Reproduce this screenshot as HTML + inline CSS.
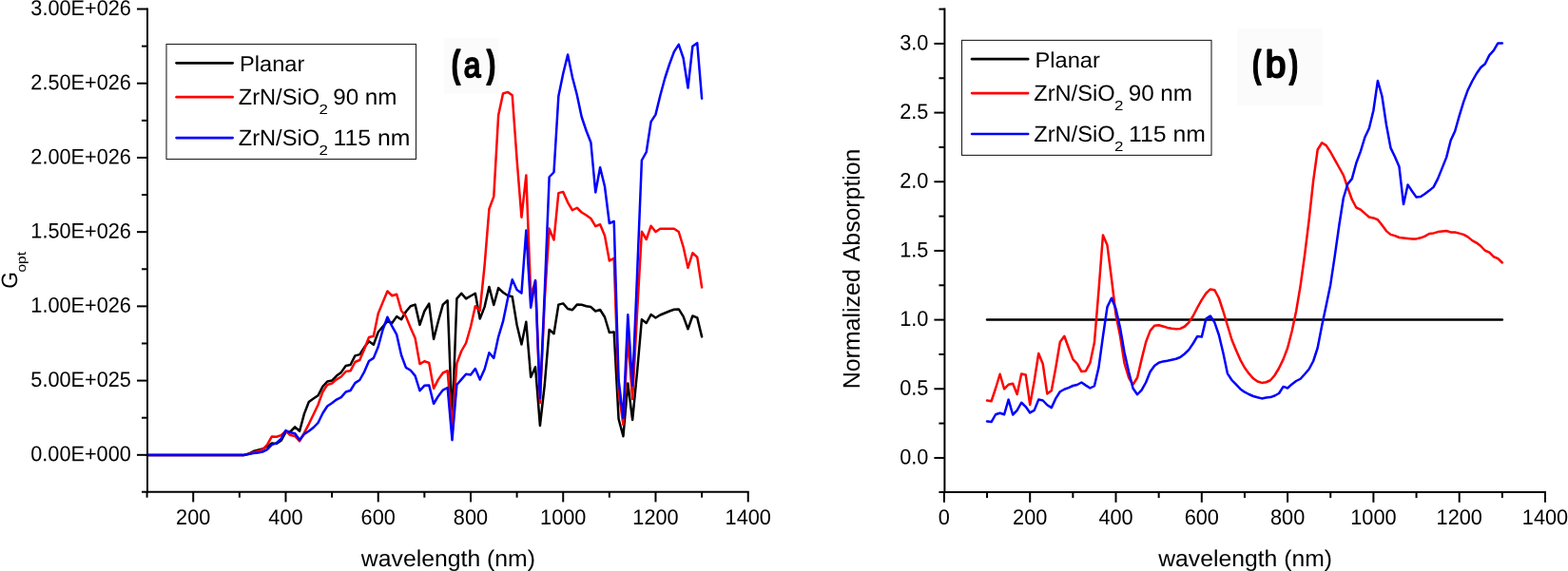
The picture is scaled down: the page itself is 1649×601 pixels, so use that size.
<!DOCTYPE html>
<html lang="en">
<head>
<meta charset="utf-8">
<title>Figure</title>
<style>
html,body{margin:0;padding:0;background:#fff;}
body{width:1649px;height:601px;overflow:hidden;}
svg{display:block;}
</style>
</head>
<body>
<svg width="1649" height="601" viewBox="0 0 1649 601" font-family="'Liberation Sans', sans-serif" text-rendering="geometricPrecision">
<rect x="0" y="0" width="1649" height="601" fill="#fff"/>
<rect x="467" y="40" width="57.6" height="58.4" fill="#fbfbfb"/>
<rect x="1301" y="30" width="89.5" height="81" fill="#fbfbfb"/>
<polyline points="154.60,478.90 159.46,478.90 164.32,478.90 169.19,478.90 174.05,478.90 178.91,478.90 183.78,478.90 188.64,478.90 193.50,478.90 198.36,478.90 203.22,478.90 208.09,478.90 212.95,478.90 217.81,478.90 222.68,478.90 227.54,478.90 232.40,478.90 237.26,478.90 242.12,478.90 246.99,478.90 251.85,478.90 256.71,478.90 261.57,477.50 266.44,475.00 271.30,473.80 276.16,472.50 281.02,470.00 285.89,466.50 290.75,466.90 295.61,463.80 300.48,454.80 305.34,454.40 310.20,449.40 315.06,453.80 319.93,435.60 324.79,423.00 329.65,419.50 334.51,416.30 339.38,406.90 344.24,401.50 349.10,400.60 353.96,395.60 358.82,391.90 363.69,385.00 368.55,384.00 373.41,374.40 378.27,373.10 383.14,365.60 388.00,359.20 392.86,362.70 397.73,349.50 402.59,343.75 407.45,338.10 412.31,340.00 417.17,333.10 422.04,336.25 426.90,328.00 431.76,322.25 436.62,320.60 441.49,341.90 446.35,327.50 451.21,319.60 456.08,356.90 460.94,338.00 465.80,320.60 470.66,316.25 475.52,445.00 480.39,314.40 485.25,308.75 490.11,314.40 494.98,311.50 499.84,308.75 504.70,335.60 509.56,323.10 514.42,301.90 519.29,321.00 524.15,303.10 529.01,307.75 533.88,311.00 538.74,312.25 543.60,342.00 548.46,362.50 553.33,338.75 558.19,396.90 563.05,386.25 567.91,448.00 572.77,405.00 577.64,346.90 582.50,351.25 587.36,320.60 592.23,319.40 597.09,325.00 601.95,326.25 606.81,320.60 611.67,320.80 616.54,322.30 621.40,323.10 626.26,327.50 631.12,326.00 635.99,333.75 640.85,350.00 645.71,349.40 650.58,441.00 655.44,459.20 660.30,403.50 665.16,442.00 670.03,392.00 674.89,336.25 679.75,340.00 684.61,331.10 689.48,334.50 694.34,331.50 699.20,329.50 704.06,327.50 708.93,325.80 713.79,325.40 718.65,333.10 723.51,346.25 728.38,332.50 733.24,334.40 738.10,354.40" fill="none" stroke="#000000" stroke-width="2.5" stroke-linejoin="round" stroke-linecap="round"/>
<polyline points="154.60,478.90 159.46,478.90 164.32,478.90 169.19,478.90 174.05,478.90 178.91,478.90 183.78,478.90 188.64,478.90 193.50,478.90 198.36,478.90 203.22,478.90 208.09,478.90 212.95,478.90 217.81,478.90 222.68,478.90 227.54,478.90 232.40,478.90 237.26,478.90 242.12,478.90 246.99,478.90 251.85,478.90 256.71,478.90 261.57,477.90 266.44,476.30 271.30,475.00 276.16,473.10 281.02,468.10 285.89,459.40 290.75,459.80 295.61,458.10 300.48,453.80 305.34,458.10 310.20,459.00 315.06,464.40 319.93,455.60 324.79,446.30 329.65,436.30 334.51,426.00 339.38,412.50 344.24,405.00 349.10,403.50 353.96,399.40 358.82,396.50 363.69,391.00 368.55,390.30 373.41,381.00 378.27,379.00 383.14,367.50 388.00,355.00 392.86,353.80 397.73,330.00 402.59,318.10 407.45,306.50 412.31,311.25 417.17,309.75 422.04,326.90 426.90,333.10 431.76,345.00 436.62,356.00 441.49,383.10 446.35,380.25 451.21,381.90 456.08,408.90 460.94,399.40 465.80,392.50 470.66,390.25 475.52,450.00 480.39,382.50 485.25,369.50 490.11,361.00 494.98,344.00 499.84,322.25 504.70,326.90 509.56,280.00 514.42,220.00 519.29,206.90 524.15,121.25 529.01,98.50 533.88,96.90 538.74,100.25 543.60,168.00 548.46,228.75 553.33,184.40 558.19,311.00 563.05,296.00 567.91,424.00 572.77,316.00 577.64,240.60 582.50,252.50 587.36,203.10 592.23,201.90 597.09,213.10 601.95,221.25 606.81,218.75 611.67,223.50 616.54,226.50 621.40,230.00 626.26,238.10 631.12,236.25 635.99,248.00 640.85,274.40 645.71,271.90 650.58,412.00 655.44,447.00 660.30,355.00 665.16,420.00 670.03,330.00 674.89,243.75 679.75,252.00 684.61,237.75 689.48,244.00 694.34,240.70 699.20,240.70 704.06,240.70 708.93,240.80 713.79,244.00 718.65,260.00 723.51,281.90 728.38,266.25 733.24,270.60 738.10,302.50" fill="none" stroke="#ff0000" stroke-width="2.5" stroke-linejoin="round" stroke-linecap="round"/>
<polyline points="154.60,478.90 159.46,478.90 164.32,478.90 169.19,478.90 174.05,478.90 178.91,478.90 183.78,478.90 188.64,478.90 193.50,478.90 198.36,478.90 203.22,478.90 208.09,478.90 212.95,478.90 217.81,478.90 222.68,478.90 227.54,478.90 232.40,478.90 237.26,478.90 242.12,478.90 246.99,478.90 251.85,478.90 256.71,478.90 261.57,478.10 266.44,477.10 271.30,476.50 276.16,475.60 281.02,473.10 285.89,468.10 290.75,466.30 295.61,461.90 300.48,453.10 305.34,455.30 310.20,456.30 315.06,463.10 319.93,456.90 324.79,453.80 329.65,450.00 334.51,445.00 339.38,435.00 344.24,427.50 349.10,424.20 353.96,420.60 358.82,418.10 363.69,412.50 368.55,411.00 373.41,403.10 378.27,400.00 383.14,391.30 388.00,380.00 392.86,376.90 397.73,365.00 402.59,347.00 407.45,333.75 412.31,343.40 417.17,352.20 422.04,373.75 426.90,386.90 431.76,389.75 436.62,395.60 441.49,411.25 446.35,405.80 451.21,405.40 456.08,425.00 460.94,416.90 465.80,410.60 470.66,408.00 475.52,463.20 480.39,405.00 485.25,399.40 490.11,393.75 494.98,394.60 499.84,388.10 504.70,399.60 509.56,388.75 514.42,371.25 519.29,376.90 524.15,354.60 529.01,338.40 533.88,314.70 538.74,294.20 543.60,305.00 548.46,308.60 553.33,242.60 558.19,323.75 563.05,295.00 567.91,419.00 572.77,308.00 577.64,186.25 582.50,181.25 587.36,101.25 592.23,77.50 597.09,57.50 601.95,81.25 606.81,100.00 611.67,123.00 616.54,137.50 621.40,150.00 626.26,202.50 631.12,176.25 635.99,196.25 640.85,235.00 645.71,233.00 650.58,400.00 655.44,440.00 660.30,331.25 665.16,406.00 670.03,290.00 674.89,168.75 679.75,160.00 684.61,128.10 689.48,120.60 694.34,100.50 699.20,82.50 704.06,67.50 708.93,54.40 713.79,46.90 718.65,61.25 723.51,92.50 728.38,48.75 733.24,45.25 738.10,103.75" fill="none" stroke="#0000ff" stroke-width="2.5" stroke-linejoin="round" stroke-linecap="round"/>
<line x1="155.00" y1="8.50" x2="155.00" y2="518.70" stroke="#000" stroke-width="2.0" stroke-linecap="butt"/>
<line x1="149.00" y1="517.70" x2="787.73" y2="517.70" stroke="#000" stroke-width="2.0" stroke-linecap="butt"/>
<line x1="144.00" y1="9.50" x2="155.00" y2="9.50" stroke="#000" stroke-width="2.0" stroke-linecap="butt"/>
<text x="32.37" y="16.00" font-size="22.60" textLength="105.57" lengthAdjust="spacingAndGlyphs" transform="rotate(0.03 137 16.00)">3.00E+026</text>
<line x1="149.00" y1="48.61" x2="155.00" y2="48.61" stroke="#000" stroke-width="2.0" stroke-linecap="butt"/>
<line x1="144.00" y1="87.72" x2="155.00" y2="87.72" stroke="#000" stroke-width="2.0" stroke-linecap="butt"/>
<text x="32.37" y="94.22" font-size="22.60" textLength="105.57" lengthAdjust="spacingAndGlyphs" transform="rotate(0.03 137 94.22)">2.50E+026</text>
<line x1="149.00" y1="126.83" x2="155.00" y2="126.83" stroke="#000" stroke-width="2.0" stroke-linecap="butt"/>
<line x1="144.00" y1="165.94" x2="155.00" y2="165.94" stroke="#000" stroke-width="2.0" stroke-linecap="butt"/>
<text x="32.37" y="172.44" font-size="22.60" textLength="105.57" lengthAdjust="spacingAndGlyphs" transform="rotate(0.03 137 172.44)">2.00E+026</text>
<line x1="149.00" y1="205.05" x2="155.00" y2="205.05" stroke="#000" stroke-width="2.0" stroke-linecap="butt"/>
<line x1="144.00" y1="244.16" x2="155.00" y2="244.16" stroke="#000" stroke-width="2.0" stroke-linecap="butt"/>
<text x="32.37" y="250.66" font-size="22.60" textLength="105.57" lengthAdjust="spacingAndGlyphs" transform="rotate(0.03 137 250.66)">1.50E+026</text>
<line x1="149.00" y1="283.27" x2="155.00" y2="283.27" stroke="#000" stroke-width="2.0" stroke-linecap="butt"/>
<line x1="144.00" y1="322.38" x2="155.00" y2="322.38" stroke="#000" stroke-width="2.0" stroke-linecap="butt"/>
<text x="32.37" y="328.88" font-size="22.60" textLength="105.57" lengthAdjust="spacingAndGlyphs" transform="rotate(0.03 137 328.88)">1.00E+026</text>
<line x1="149.00" y1="361.49" x2="155.00" y2="361.49" stroke="#000" stroke-width="2.0" stroke-linecap="butt"/>
<line x1="144.00" y1="400.60" x2="155.00" y2="400.60" stroke="#000" stroke-width="2.0" stroke-linecap="butt"/>
<text x="32.32" y="407.10" font-size="22.60" textLength="105.57" lengthAdjust="spacingAndGlyphs" transform="rotate(0.03 137 407.10)">5.00E+025</text>
<line x1="149.00" y1="439.71" x2="155.00" y2="439.71" stroke="#000" stroke-width="2.0" stroke-linecap="butt"/>
<line x1="144.00" y1="478.82" x2="155.00" y2="478.82" stroke="#000" stroke-width="2.0" stroke-linecap="butt"/>
<text x="32.26" y="485.32" font-size="22.60" textLength="105.57" lengthAdjust="spacingAndGlyphs" transform="rotate(0.03 137 485.32)">0.00E+000</text>
<line x1="154.60" y1="517.70" x2="154.60" y2="523.70" stroke="#000" stroke-width="2.0" stroke-linecap="butt"/>
<line x1="203.22" y1="517.70" x2="203.22" y2="528.40" stroke="#000" stroke-width="2.0" stroke-linecap="butt"/>
<text x="185.12" y="552.00" font-size="22.60" textLength="36.20" lengthAdjust="spacingAndGlyphs">200</text>
<line x1="251.85" y1="517.70" x2="251.85" y2="523.70" stroke="#000" stroke-width="2.0" stroke-linecap="butt"/>
<line x1="300.48" y1="517.70" x2="300.48" y2="528.40" stroke="#000" stroke-width="2.0" stroke-linecap="butt"/>
<text x="282.37" y="552.00" font-size="22.60" textLength="36.20" lengthAdjust="spacingAndGlyphs">400</text>
<line x1="349.10" y1="517.70" x2="349.10" y2="523.70" stroke="#000" stroke-width="2.0" stroke-linecap="butt"/>
<line x1="397.73" y1="517.70" x2="397.73" y2="528.40" stroke="#000" stroke-width="2.0" stroke-linecap="butt"/>
<text x="379.62" y="552.00" font-size="22.60" textLength="36.20" lengthAdjust="spacingAndGlyphs">600</text>
<line x1="446.35" y1="517.70" x2="446.35" y2="523.70" stroke="#000" stroke-width="2.0" stroke-linecap="butt"/>
<line x1="494.98" y1="517.70" x2="494.98" y2="528.40" stroke="#000" stroke-width="2.0" stroke-linecap="butt"/>
<text x="476.87" y="552.00" font-size="22.60" textLength="36.20" lengthAdjust="spacingAndGlyphs">800</text>
<line x1="543.60" y1="517.70" x2="543.60" y2="523.70" stroke="#000" stroke-width="2.0" stroke-linecap="butt"/>
<line x1="592.23" y1="517.70" x2="592.23" y2="528.40" stroke="#000" stroke-width="2.0" stroke-linecap="butt"/>
<text x="568.09" y="552.00" font-size="22.60" textLength="48.27" lengthAdjust="spacingAndGlyphs">1000</text>
<line x1="640.85" y1="517.70" x2="640.85" y2="523.70" stroke="#000" stroke-width="2.0" stroke-linecap="butt"/>
<line x1="689.48" y1="517.70" x2="689.48" y2="528.40" stroke="#000" stroke-width="2.0" stroke-linecap="butt"/>
<text x="665.34" y="552.00" font-size="22.60" textLength="48.27" lengthAdjust="spacingAndGlyphs">1200</text>
<line x1="738.10" y1="517.70" x2="738.10" y2="523.70" stroke="#000" stroke-width="2.0" stroke-linecap="butt"/>
<line x1="786.73" y1="517.70" x2="786.73" y2="528.40" stroke="#000" stroke-width="2.0" stroke-linecap="butt"/>
<text x="762.59" y="552.00" font-size="22.60" textLength="48.27" lengthAdjust="spacingAndGlyphs">1400</text>
<text x="379.86" y="596.00" font-size="24.30" textLength="183.12" lengthAdjust="spacingAndGlyphs" fill="#000">wavelength (nm)</text>
<g transform="translate(17.9,302.7) rotate(-90)"><text y="0.00"><tspan x="-1.14" y="0.00" font-size="23.50" textLength="17.76" lengthAdjust="spacingAndGlyphs">G</tspan><tspan x="16.14" y="8.70" font-size="13.40" textLength="21.58" lengthAdjust="spacingAndGlyphs">opt</tspan></text></g>
<rect x="175.00" y="46.50" width="262.5" height="121" fill="#fff" stroke="#222" stroke-width="1.1"/>
<line x1="185.60" y1="66.30" x2="244.60" y2="66.30" stroke="#000000" stroke-width="2.7" stroke-linecap="round"/>
<line x1="185.60" y1="102.20" x2="244.60" y2="102.20" stroke="#ff0000" stroke-width="2.7" stroke-linecap="round"/>
<line x1="185.60" y1="145.10" x2="244.60" y2="145.10" stroke="#0000ff" stroke-width="2.7" stroke-linecap="round"/>
<text x="252.05" y="75.00" font-size="23.00" textLength="68.32" lengthAdjust="spacingAndGlyphs" fill="#000">Planar</text>
<text y="110.00"><tspan x="250.73" y="110.00" font-size="23.60" textLength="85.41" lengthAdjust="spacingAndGlyphs">ZrN/SiO</tspan><tspan x="335.45" y="119.80" font-size="14.50" textLength="9.41" lengthAdjust="spacingAndGlyphs">2</tspan> <tspan x="350.15" y="110.00" font-size="23.60" textLength="67.41" lengthAdjust="spacingAndGlyphs">90 nm</tspan></text>
<text y="153.20"><tspan x="250.73" y="153.20" font-size="23.60" textLength="85.41" lengthAdjust="spacingAndGlyphs">ZrN/SiO</tspan><tspan x="335.45" y="163.00" font-size="14.50" textLength="9.41" lengthAdjust="spacingAndGlyphs">2</tspan> <tspan x="350.64" y="153.20" font-size="23.60" textLength="80.80" lengthAdjust="spacingAndGlyphs">115 nm</tspan></text>
<text y="81.00" stroke="#000" stroke-width="1.5" stroke-linejoin="round"><tspan x="474.78" font-size="40.00" font-weight="bold" textLength="9.43" lengthAdjust="spacingAndGlyphs">(</tspan><tspan x="487.85" font-size="37.00" stroke-width="2.0" textLength="17.71" lengthAdjust="spacingAndGlyphs">a</tspan><tspan x="511.83" font-size="40.00" font-weight="bold" textLength="9.51" lengthAdjust="spacingAndGlyphs">)</tspan></text>
<polyline points="1038.05,336.50 1579.85,336.50" fill="none" stroke="#000000" stroke-width="2.5" stroke-linejoin="round" stroke-linecap="round"/>
<polyline points="1038.05,421.60 1042.57,422.25 1047.08,408.75 1051.60,393.75 1056.11,409.40 1060.62,404.75 1065.14,403.75 1069.65,415.00 1074.17,393.50 1078.68,394.40 1083.20,426.00 1087.71,401.00 1092.23,372.00 1096.74,383.00 1101.26,414.40 1105.78,411.25 1110.29,387.00 1114.81,360.00 1119.32,353.75 1123.84,366.25 1128.35,378.10 1132.87,382.80 1137.38,391.10 1141.89,390.40 1146.41,382.00 1150.92,360.60 1155.44,306.00 1159.95,247.50 1164.47,258.10 1168.98,293.50 1173.50,331.25 1178.01,353.75 1182.53,382.50 1187.05,397.50 1191.56,404.75 1196.08,397.50 1200.59,378.10 1205.11,360.00 1209.62,348.10 1214.13,342.75 1218.65,342.25 1223.16,343.50 1227.68,344.90 1232.19,345.75 1236.71,346.25 1241.22,345.90 1245.74,343.75 1250.26,339.40 1254.77,332.50 1259.28,323.75 1263.80,315.60 1268.32,308.75 1272.83,304.40 1277.35,305.25 1281.86,313.75 1286.38,327.50 1290.89,342.50 1295.40,357.50 1299.92,368.50 1304.43,378.80 1308.95,387.00 1313.46,393.20 1317.98,398.30 1322.49,401.50 1327.01,402.90 1331.53,402.25 1336.04,400.25 1340.56,395.00 1345.07,387.50 1349.59,378.10 1354.10,366.25 1358.62,348.75 1363.13,327.50 1367.64,300.60 1372.16,268.00 1376.67,231.25 1381.19,190.00 1385.70,157.50 1390.22,150.25 1394.74,153.10 1399.25,160.00 1403.76,168.10 1408.28,176.25 1412.80,184.40 1417.31,197.50 1421.83,210.00 1426.34,218.50 1430.86,220.60 1435.37,224.60 1439.88,228.50 1444.40,229.40 1448.91,231.25 1453.43,236.90 1457.94,243.10 1462.46,246.90 1466.97,248.10 1471.49,250.00 1476.01,250.40 1480.52,250.90 1485.03,251.40 1489.55,251.40 1494.07,250.30 1498.58,248.60 1503.10,246.00 1507.61,245.40 1512.12,244.10 1516.64,243.60 1521.15,243.00 1525.67,244.40 1530.18,244.50 1534.70,245.60 1539.22,246.90 1543.73,249.40 1548.24,253.10 1552.76,255.60 1557.28,259.00 1561.79,263.75 1566.30,265.60 1570.82,270.25 1575.34,272.10 1579.85,276.50" fill="none" stroke="#ff0000" stroke-width="2.5" stroke-linejoin="round" stroke-linecap="round"/>
<polyline points="1038.05,443.40 1042.57,444.10 1047.08,436.25 1051.60,434.75 1056.11,436.25 1060.62,420.60 1065.14,436.50 1069.65,431.90 1074.17,423.75 1078.68,428.10 1083.20,434.40 1087.71,431.90 1092.23,420.60 1096.74,421.50 1101.26,426.25 1105.78,429.10 1110.29,419.40 1114.81,412.25 1119.32,409.75 1123.84,408.10 1128.35,406.00 1132.87,405.00 1137.38,402.50 1141.89,405.60 1146.41,408.50 1150.92,406.25 1155.44,386.90 1159.95,354.00 1164.47,323.10 1168.98,313.75 1173.50,325.00 1178.01,345.00 1182.53,371.00 1187.05,391.25 1191.56,408.75 1196.08,415.25 1200.59,410.60 1205.11,402.50 1209.62,391.25 1214.13,385.00 1218.65,381.70 1223.16,380.40 1227.68,379.75 1232.19,378.75 1236.71,377.75 1241.22,376.00 1245.74,372.50 1250.26,368.10 1254.77,361.50 1259.28,353.90 1263.80,354.60 1268.32,335.60 1272.83,332.50 1277.35,339.40 1281.86,352.50 1286.38,371.50 1290.89,393.10 1295.40,400.00 1299.92,404.70 1304.43,409.40 1308.95,412.70 1313.46,415.00 1317.98,417.00 1322.49,418.25 1327.01,419.40 1331.53,418.50 1336.04,418.10 1340.56,416.50 1345.07,414.00 1349.59,406.90 1354.10,408.50 1358.62,404.40 1363.13,401.00 1367.64,398.75 1372.16,393.75 1376.67,388.50 1381.19,380.00 1385.70,366.00 1390.22,342.50 1394.74,321.25 1399.25,299.40 1403.76,269.40 1408.28,237.50 1412.80,208.50 1417.31,193.75 1421.83,188.10 1426.34,171.50 1430.86,159.40 1435.37,144.50 1439.88,135.00 1444.40,116.25 1448.91,85.00 1453.43,101.25 1457.94,131.25 1462.46,155.60 1466.97,165.00 1471.49,175.60 1476.01,215.00 1480.52,194.40 1485.03,201.25 1489.55,207.60 1494.07,207.00 1498.58,204.00 1503.10,200.60 1507.61,196.90 1512.12,188.10 1516.64,176.90 1521.15,165.60 1525.67,147.80 1530.18,138.00 1534.70,121.90 1539.22,107.20 1543.73,94.70 1548.24,85.50 1552.76,77.50 1557.28,71.00 1561.79,67.25 1566.30,58.10 1570.82,53.10 1575.34,45.40 1579.85,45.40" fill="none" stroke="#0000ff" stroke-width="2.5" stroke-linejoin="round" stroke-linecap="round"/>
<line x1="993.40" y1="8.59" x2="993.40" y2="519.10" stroke="#000" stroke-width="2.0" stroke-linecap="butt"/>
<line x1="987.40" y1="518.10" x2="1626.00" y2="518.10" stroke="#000" stroke-width="2.0" stroke-linecap="butt"/>
<line x1="987.40" y1="9.59" x2="993.40" y2="9.59" stroke="#000" stroke-width="2.0" stroke-linecap="butt"/>
<line x1="982.40" y1="45.93" x2="993.40" y2="45.93" stroke="#000" stroke-width="2.0" stroke-linecap="butt"/>
<text x="946.16" y="52.43" font-size="22.60" textLength="30.16" lengthAdjust="spacingAndGlyphs" transform="rotate(0.03 975 52.43)">3.0</text>
<line x1="987.40" y1="82.27" x2="993.40" y2="82.27" stroke="#000" stroke-width="2.0" stroke-linecap="butt"/>
<line x1="982.40" y1="118.60" x2="993.40" y2="118.60" stroke="#000" stroke-width="2.0" stroke-linecap="butt"/>
<text x="946.21" y="125.10" font-size="22.60" textLength="30.16" lengthAdjust="spacingAndGlyphs" transform="rotate(0.03 975 125.10)">2.5</text>
<line x1="987.40" y1="154.93" x2="993.40" y2="154.93" stroke="#000" stroke-width="2.0" stroke-linecap="butt"/>
<line x1="982.40" y1="191.27" x2="993.40" y2="191.27" stroke="#000" stroke-width="2.0" stroke-linecap="butt"/>
<text x="946.16" y="197.77" font-size="22.60" textLength="30.16" lengthAdjust="spacingAndGlyphs" transform="rotate(0.03 975 197.77)">2.0</text>
<line x1="987.40" y1="227.60" x2="993.40" y2="227.60" stroke="#000" stroke-width="2.0" stroke-linecap="butt"/>
<line x1="982.40" y1="263.94" x2="993.40" y2="263.94" stroke="#000" stroke-width="2.0" stroke-linecap="butt"/>
<text x="946.21" y="270.44" font-size="22.60" textLength="30.16" lengthAdjust="spacingAndGlyphs" transform="rotate(0.03 975 270.44)">1.5</text>
<line x1="987.40" y1="300.27" x2="993.40" y2="300.27" stroke="#000" stroke-width="2.0" stroke-linecap="butt"/>
<line x1="982.40" y1="336.61" x2="993.40" y2="336.61" stroke="#000" stroke-width="2.0" stroke-linecap="butt"/>
<text x="946.16" y="343.11" font-size="22.60" textLength="30.16" lengthAdjust="spacingAndGlyphs" transform="rotate(0.03 975 343.11)">1.0</text>
<line x1="987.40" y1="372.94" x2="993.40" y2="372.94" stroke="#000" stroke-width="2.0" stroke-linecap="butt"/>
<line x1="982.40" y1="409.28" x2="993.40" y2="409.28" stroke="#000" stroke-width="2.0" stroke-linecap="butt"/>
<text x="946.21" y="415.78" font-size="22.60" textLength="30.16" lengthAdjust="spacingAndGlyphs" transform="rotate(0.03 975 415.78)">0.5</text>
<line x1="987.40" y1="445.61" x2="993.40" y2="445.61" stroke="#000" stroke-width="2.0" stroke-linecap="butt"/>
<line x1="982.40" y1="481.95" x2="993.40" y2="481.95" stroke="#000" stroke-width="2.0" stroke-linecap="butt"/>
<text x="946.16" y="488.45" font-size="22.60" textLength="30.16" lengthAdjust="spacingAndGlyphs" transform="rotate(0.03 975 488.45)">0.0</text>
<line x1="992.90" y1="518.10" x2="992.90" y2="528.80" stroke="#000" stroke-width="2.0" stroke-linecap="butt"/>
<text x="986.87" y="552.00" font-size="22.60" textLength="12.07" lengthAdjust="spacingAndGlyphs">0</text>
<line x1="1038.05" y1="518.10" x2="1038.05" y2="524.10" stroke="#000" stroke-width="2.0" stroke-linecap="butt"/>
<line x1="1083.20" y1="518.10" x2="1083.20" y2="528.80" stroke="#000" stroke-width="2.0" stroke-linecap="butt"/>
<text x="1065.10" y="552.00" font-size="22.60" textLength="36.20" lengthAdjust="spacingAndGlyphs">200</text>
<line x1="1128.35" y1="518.10" x2="1128.35" y2="524.10" stroke="#000" stroke-width="2.0" stroke-linecap="butt"/>
<line x1="1173.50" y1="518.10" x2="1173.50" y2="528.80" stroke="#000" stroke-width="2.0" stroke-linecap="butt"/>
<text x="1155.40" y="552.00" font-size="22.60" textLength="36.20" lengthAdjust="spacingAndGlyphs">400</text>
<line x1="1218.65" y1="518.10" x2="1218.65" y2="524.10" stroke="#000" stroke-width="2.0" stroke-linecap="butt"/>
<line x1="1263.80" y1="518.10" x2="1263.80" y2="528.80" stroke="#000" stroke-width="2.0" stroke-linecap="butt"/>
<text x="1245.70" y="552.00" font-size="22.60" textLength="36.20" lengthAdjust="spacingAndGlyphs">600</text>
<line x1="1308.95" y1="518.10" x2="1308.95" y2="524.10" stroke="#000" stroke-width="2.0" stroke-linecap="butt"/>
<line x1="1354.10" y1="518.10" x2="1354.10" y2="528.80" stroke="#000" stroke-width="2.0" stroke-linecap="butt"/>
<text x="1336.00" y="552.00" font-size="22.60" textLength="36.20" lengthAdjust="spacingAndGlyphs">800</text>
<line x1="1399.25" y1="518.10" x2="1399.25" y2="524.10" stroke="#000" stroke-width="2.0" stroke-linecap="butt"/>
<line x1="1444.40" y1="518.10" x2="1444.40" y2="528.80" stroke="#000" stroke-width="2.0" stroke-linecap="butt"/>
<text x="1420.27" y="552.00" font-size="22.60" textLength="48.27" lengthAdjust="spacingAndGlyphs">1000</text>
<line x1="1489.55" y1="518.10" x2="1489.55" y2="524.10" stroke="#000" stroke-width="2.0" stroke-linecap="butt"/>
<line x1="1534.70" y1="518.10" x2="1534.70" y2="528.80" stroke="#000" stroke-width="2.0" stroke-linecap="butt"/>
<text x="1510.57" y="552.00" font-size="22.60" textLength="48.27" lengthAdjust="spacingAndGlyphs">1200</text>
<line x1="1579.85" y1="518.10" x2="1579.85" y2="524.10" stroke="#000" stroke-width="2.0" stroke-linecap="butt"/>
<line x1="1625.00" y1="518.10" x2="1625.00" y2="528.80" stroke="#000" stroke-width="2.0" stroke-linecap="butt"/>
<text x="1600.87" y="552.00" font-size="22.60" textLength="48.27" lengthAdjust="spacingAndGlyphs">1400</text>
<text x="1218.26" y="595.60" font-size="24.30" textLength="182.72" lengthAdjust="spacingAndGlyphs" fill="#000">wavelength (nm)</text>
<g transform="translate(904.0,407.5) rotate(-90)"><text y="0.00"><tspan x="-1.86" font-size="25.00" textLength="126.17" lengthAdjust="spacingAndGlyphs">Normalized</tspan> <tspan x="132.34" font-size="25.00" textLength="118.53" lengthAdjust="spacingAndGlyphs">Absorption</tspan></text></g>
<rect x="1011.50" y="42.40" width="262.5" height="121" fill="#fff" stroke="#222" stroke-width="1.1"/>
<line x1="1022.10" y1="62.20" x2="1081.10" y2="62.20" stroke="#000000" stroke-width="2.7" stroke-linecap="round"/>
<line x1="1022.10" y1="98.10" x2="1081.10" y2="98.10" stroke="#ff0000" stroke-width="2.7" stroke-linecap="round"/>
<line x1="1022.10" y1="141.00" x2="1081.10" y2="141.00" stroke="#0000ff" stroke-width="2.7" stroke-linecap="round"/>
<text x="1088.55" y="70.90" font-size="23.00" textLength="68.32" lengthAdjust="spacingAndGlyphs" fill="#000">Planar</text>
<text y="105.90"><tspan x="1087.23" y="105.90" font-size="23.60" textLength="85.41" lengthAdjust="spacingAndGlyphs">ZrN/SiO</tspan><tspan x="1171.95" y="115.70" font-size="14.50" textLength="9.41" lengthAdjust="spacingAndGlyphs">2</tspan> <tspan x="1186.65" y="105.90" font-size="23.60" textLength="67.41" lengthAdjust="spacingAndGlyphs">90 nm</tspan></text>
<text y="149.10"><tspan x="1087.23" y="149.10" font-size="23.60" textLength="85.41" lengthAdjust="spacingAndGlyphs">ZrN/SiO</tspan><tspan x="1171.95" y="158.90" font-size="14.50" textLength="9.41" lengthAdjust="spacingAndGlyphs">2</tspan> <tspan x="1187.14" y="149.10" font-size="23.60" textLength="80.80" lengthAdjust="spacingAndGlyphs">115 nm</tspan></text>
<text y="80.80" stroke="#000" stroke-width="1.5" stroke-linejoin="round"><tspan x="1317.10" font-size="40.00" font-weight="bold" textLength="9.31" lengthAdjust="spacingAndGlyphs">(</tspan><tspan x="1330.87" font-size="39.50" stroke-width="2.0" textLength="21.63" lengthAdjust="spacingAndGlyphs">b</tspan><tspan x="1355.63" font-size="40.00" font-weight="bold" textLength="9.40" lengthAdjust="spacingAndGlyphs">)</tspan></text>
</svg>
</body>
</html>
